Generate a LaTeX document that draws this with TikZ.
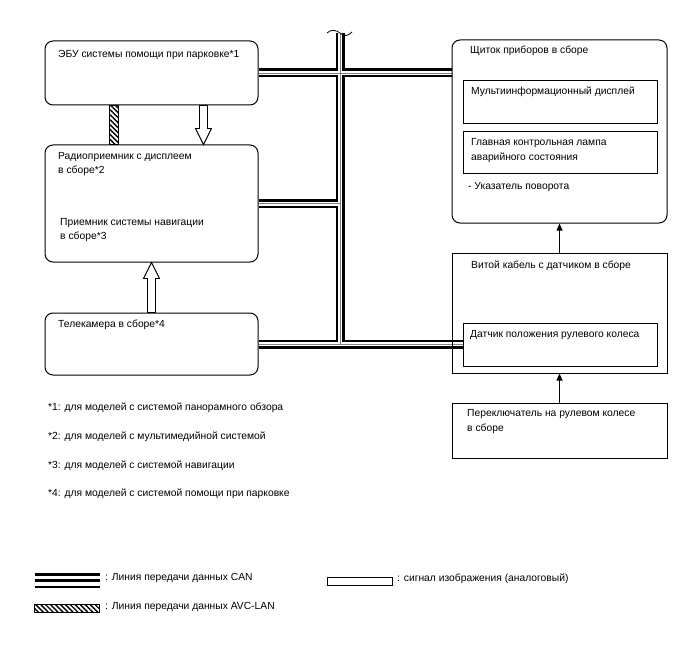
\documentclass[tikz,border=0pt]{standalone}
\usepackage{fontspec}
\setmainfont{Liberation Sans}
\usetikzlibrary{calc,backgrounds,patterns.meta,arrows.meta}

% CAN line: outer black, white core, thin grey middle
\newcommand{\canbus}[1]{%
  \draw[canout] #1;
  \draw[canin] #1;
  \draw[canmid] #1;}
% hollow video arrow: from, to, direction (1 = down, -1 = up)
\newcommand{\vidarrow}[3]{%
  \draw[vid] ($(#1)+(-4,0)$) -- ($(#2)+(-4,{-16*(#3)})$) -- ($(#2)+(-8,{-16*(#3)})$) -- (#2)
    -- ($(#2)+(8,{-16*(#3)})$) -- ($(#2)+(4,{-16*(#3)})$) -- ($(#1)+(4,0)$) -- cycle;}

\begin{document}
\begin{tikzpicture}[x=1pt, y=-1pt,
    box/.style={draw, line width=1pt, inner sep=0pt},
    rbox/.style={box, rounded corners=8pt},
    lbl/.style={anchor=west, inner sep=0pt, align=left, font=\fontsize{10.3}{14.5}\selectfont},
    canout/.style={line width=9pt},
    canin/.style={white, line width=4pt},
    canmid/.style={gray, line width=0.8pt},
    vid/.style={draw, line width=0.9pt, fill=white},
    avc/.style={draw, line width=0.9pt, pattern={Lines[angle=-45, distance=3.5pt, line width=1.4pt]}},
    sig/.style={-{Triangle[length=7pt, width=6pt]}, line width=0.8pt}]
    \useasboundingbox (0,0) rectangle (688,658);

    \node[rbox, minimum width=213, minimum height=64] (ecu) at (151.5,73) {};
    \node[rbox, minimum width=213, minimum height=117] (radio) at (151.5,203.5) {};
    \node[rbox, minimum width=213, minimum height=62] (cam) at (151.5,344) {};

    \node[rbox, minimum width=215, minimum height=183] (cluster) at (559.5,131.5) {};
    \node[box, minimum width=194, minimum height=43] (multi) at (560,102.5) {};
    \node[box, minimum width=194, minimum height=41] (lamp) at (560,152.5) {};

    \node[box, minimum width=215, minimum height=120] (spiral) at (559.5,313) {};
    \node[box, minimum width=194, minimum height=43] (sensor) at (560,344.5) {};
    \node[box, minimum width=215, minimum height=55] (switch) at (559.5,430.5) {};

    % texts
    \node[lbl] (ecutxt) at (58,55) {ЭБУ системы помощи при парковке*1};
    \node[lbl] (radiotxt) at (58,164) {Радиоприемник с дисплеем\\в сборе*2};
    \node[lbl] (navitxt) at (60,230) {Приемник системы навигации\\в сборе*3};
    \node[lbl] (camtxt) at (58,325) {Телекамера в сборе*4};
    \node[lbl] (clustertxt) at (470,51) {Щиток приборов в сборе};
    \node[lbl] (multitxt) at (471,92) {Мультиинформационный дисплей};
    \node[lbl] (lamptxt) at (471,150.5) {Главная контрольная лампа\\аварийного состояния};
    \node[lbl] (turntxt) at (468,187) {- Указатель поворота};
    \node[lbl] (spiraltxt) at (471,266) {Витой кабель с датчиком в сборе};
    \node[lbl] (sensortxt) at (470,335) {Датчик положения рулевого колеса};
    \node[lbl] (switchtxt) at (467,421.5) {Переключатель на рулевом колесе\\в сборе};

    % footnotes
    \node[lbl] (note1) at (48,408) {*1: для моделей с системой панорамного обзора};
    \node[lbl] (note2) at (48,437) {*2: для моделей с мультимедийной системой};
    \node[lbl] (note3) at (48,466) {*3: для моделей с системой навигации};
    \node[lbl] (note4) at (48,494) {*4: для моделей с системой помощи при парковке};

    % CAN bus
    \coordinate (bustop) at (340,33);
    \begin{scope}[on background layer]
        \canbus{(ecu.east) -- (ecu.east -| cluster.west)
            (bustop) -- (bustop |- cam.east)
            (radio.east) -- (radio.east -| bustop)
            (cam.east) -- (cam.east -| sensor.west)}
    \end{scope}
    \draw[line width=0.8pt] ($(bustop)+(-13,0)$) .. controls ($(bustop)+(-9,-4)$) and ($(bustop)+(-4,-3)$) .. (bustop)
        .. controls ($(bustop)+(4,4)$) and ($(bustop)+(8,3)$) .. ($(bustop)+(12,-1)$);

    % AVC-LAN
    \draw[avc] ([xshift=-42.5pt]ecu.south) rectangle ([xshift=-33.5pt]radio.north);

    % video signal
    \coordinate (v1a) at ([xshift=52pt]ecu.south);
    \coordinate (v1b) at ([xshift=52pt]radio.north);
    \vidarrow{v1a}{v1b}{1}
    \vidarrow{cam.north}{radio.south}{-1}

    % other signals
    \draw[sig] (spiral.north) -- (cluster.south);
    \draw[sig] (switch.north) -- (spiral.south);

    % legend
    \draw[line width=2.5pt] (35,574.5) -- (100,574.5) (35,580.5) -- (100,580.5) (35,587) -- (100,587);
    \node[lbl] (cantxt) at (105,578) {: Линия передачи данных CAN};
    \draw[avc] (34,604) rectangle (99,612);
    \node[lbl] (avctxt) at (105,607) {: Линия передачи данных AVC-LAN};
    \draw[line width=1pt] (327,577) rectangle (392,585);
    \node[lbl] (vidtxt) at (397,579) {: сигнал изображения (аналоговый)};
\end{tikzpicture}
\end{document}
